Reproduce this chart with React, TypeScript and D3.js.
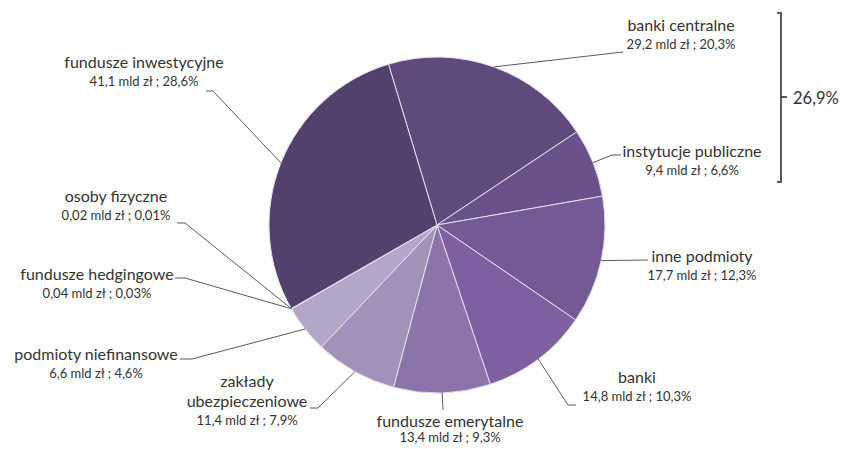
import React from "react";
import * as d3 from "d3";

const categories = [
  "banki centralne",
  "instytucje publiczne",
  "inne podmioty",
  "banki",
  "fundusze emerytalne",
  "zakłady ubezpieczeniowe",
  "podmioty niefinansowe",
  "fundusze hedgingowe",
  "osoby fizyczne",
  "fundusze inwestycyjne",
];
const amounts = ["29,2", "9,4", "17,7", "14,8", "13,4", "11,4", "6,6", "0,04", "0,02", "41,1"];
const shares = [20.3, 6.6, 12.3, 10.3, 9.3, 7.9, 4.6, 0.03, 0.01, 28.6];
const shareLabels = ["20,3%", "6,6%", "12,3%", "10,3%", "9,3%", "7,9%", "4,6%", "0,03%", "0,01%", "28,6%"];
const colors = ["#604A7B", "#6A5189", "#735A94", "#7E60A0", "#8C74AB", "#A291B8", "#B3A7C7", "#B8ADCB", "#BDB3CF", "#52406D"];
const bracketLabel = "26,9%";

// label layout: name lines, text center x, first baseline y, leader elbow points
const layout = [
  { lines: ["banki centralne"], x: 681, y: 31, elbow: [[623, 52]] },
  { lines: ["instytucje publiczne"], x: 692, y: 157, elbow: [[612, 155], [621, 155]] },
  { lines: ["inne podmioty"], x: 702, y: 262, elbow: [[648, 260]] },
  { lines: ["banki"], x: 637, y: 383, elbow: [[568, 405], [576, 405]] },
  { lines: ["fundusze emerytalne"], x: 450, y: 427, elbow: [[443, 410]] },
  { lines: ["zakłady", "ubezpieczeniowe"], x: 247, y: 387, elbow: [[318, 408], [310, 408]] },
  { lines: ["podmioty niefinansowe"], x: 96, y: 360, elbow: [[192, 359], [180, 359]] },
  { lines: ["fundusze hedgingowe"], x: 97, y: 280, elbow: [[185, 278], [175, 278]] },
  { lines: ["osoby fizyczne"], x: 116, y: 202, elbow: [[185, 223], [177, 223]] },
  { lines: ["fundusze inwestycyjne"], x: 144, y: 68, elbow: [[213, 91], [206, 91]] },
];

export default function App() {
  const W = 847, H = 449;
  const cx = 437, cy = 225, r = 168;
  const start = (-16.8 * Math.PI) / 180;
  const pie = d3.pie<number>().sort(null).value((d) => d).startAngle(start).endAngle(start + 2 * Math.PI);
  const arcs = pie(shares);
  const arc = d3.arc<d3.PieArcDatum<number>>().innerRadius(0).outerRadius(r);
  const font = "Lato, 'Open Sans', sans-serif";

  return (
    <svg width={W} height={H} style={{ position: "absolute", left: 0, top: 0, background: "#fff" }}>
      <g transform={`translate(${cx},${cy})`}>
        {arcs.map((a, i) => (
          <path key={i} d={arc(a) || ""} fill={colors[i]} stroke="#E6E0EE" strokeWidth={1} />
        ))}
      </g>
      {arcs.map((a, i) => {
        const mid = (a.startAngle + a.endAngle) / 2;
        const sx = cx + r * Math.sin(mid);
        const sy = cy - r * Math.cos(mid);
        const pts = [[sx, sy], ...layout[i].elbow];
        const line = d3.line()(pts as [number, number][]) || "";
        return <path key={"l" + i} d={line} fill="none" stroke="#5a5a5a" strokeWidth={1} />;
      })}
      {layout.map((l, i) => (
        <text key={"t" + i} textAnchor="middle" fontFamily={font} fill="#333333">
          {l.lines.map((ln, j) => (
            <tspan key={j} x={l.x} y={l.y + j * 20} fontSize={16}>
              {ln}
            </tspan>
          ))}
          <tspan x={l.x} y={l.y + (l.lines.length - 1) * 20 + (i === 4 ? 15 : 18)} fontSize={13}>
            {`${amounts[i]} mld zł ; ${shareLabels[i]}`}
          </tspan>
        </text>
      ))}
      <path d="M777,13 H781 V182 H777 M781,97 H787" fill="none" stroke="#262626" strokeWidth={1.5} />
      <text x={793} y={104} fontFamily={font} fontSize={16.5} fill="#333333">
        {bracketLabel}
      </text>
    </svg>
  );
}
